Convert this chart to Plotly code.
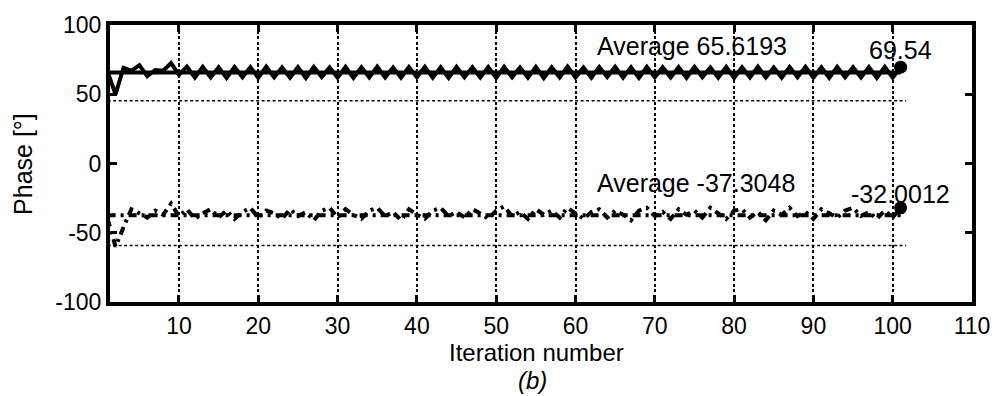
import plotly.graph_objects as go

iterations = list(range(1, 102))

phase_upper = [66, 50, 69, 67, 71, 63, 67.5, 67, 72.5, 64, 70, 62,
               69.8, 62.1, 69.4, 61.8, 69.7, 62.3, 69.5, 61.9, 69.9, 62.2,
               69.3, 62.0, 69.6, 61.7, 69.8, 62.4, 69.4, 62.0, 69.7, 61.8,
               69.5, 62.2, 69.9, 62.1, 69.3, 61.9, 69.6, 62.3, 69.8, 62.0,
               69.4, 61.8, 69.7, 62.2, 69.5, 62.1, 69.6, 61.9, 69.8, 62.3,
               69.4, 62.0, 69.7, 61.7, 69.5, 62.2, 69.9, 62.1, 69.3, 61.9,
               69.6, 62.4, 69.8, 62.0, 69.4, 61.8, 69.7, 62.2, 69.5, 62.1,
               69.6, 61.9, 69.8, 62.3, 69.4, 62.0, 69.7, 61.8, 69.5, 62.2,
               69.9, 62.1, 69.3, 61.9, 69.6, 62.3, 69.8, 62.0, 69.4, 61.8,
               69.7, 62.2, 69.5, 62.1, 69.6, 61.9, 69.8, 62.0, 69.54]

phase_lower = [-40, -60, -46, -33, -36, -39, -34, -37, -29, -38, -33, -40,
               -36, -33, -39, -34, -40, -35, -32, -39, -34, -36, -40, -33,
               -38, -35, -41, -34, -32, -39, -33, -37, -40, -34, -32, -38,
               -35, -41, -33, -37, -40, -34, -32, -38, -35, -39, -33, -36,
               -40, -34, -31, -38, -35, -40, -33, -37, -34, -39, -32, -36,
               -40, -35, -33, -39, -34, -37, -41, -34, -32, -38, -35, -40,
               -33, -37, -34, -39, -32, -36, -40, -34, -33, -39, -35, -41,
               -34, -37, -32, -38, -35, -40, -33, -36, -39, -34, -32, -38,
               -35, -40, -34, -39, -32.0012]

avg_upper = 65.6193
avg_lower = -37.3048
threshold_upper = 45.3
threshold_lower = -59.2
threshold_x = [1, 101.7]
avg_x = [1, 101]

x_ticks = [10, 20, 30, 40, 50, 60, 70, 80, 90, 100, 110]
y_ticks = [-100, -50, 0, 50, 100]

FONT = "Arial, Liberation Sans, sans-serif"
FS = 23
FS_TXT = 25
DASHDOT = "8px,5px,3px,5px"

fig = go.Figure()

# thresholds (thin dotted)
for yv in (threshold_upper, threshold_lower):
    fig.add_trace(go.Scatter(x=threshold_x, y=[yv, yv], mode="lines",
                             line=dict(color="black", width=1.5, dash="3px,2.5px"),
                             hoverinfo="skip", showlegend=False))

# average lines
fig.add_trace(go.Scatter(x=avg_x, y=[avg_upper, avg_upper], mode="lines",
                         line=dict(color="black", width=4),
                         showlegend=False))
fig.add_trace(go.Scatter(x=avg_x, y=[avg_lower, avg_lower], mode="lines",
                         line=dict(color="black", width=4, dash=DASHDOT),
                         showlegend=False))

# series
fig.add_trace(go.Scatter(x=iterations, y=phase_upper, mode="lines",
                         line=dict(color="black", width=4),
                         showlegend=False))
fig.add_trace(go.Scatter(x=iterations, y=phase_lower, mode="lines",
                         line=dict(color="black", width=4, dash=DASHDOT),
                         showlegend=False))

# end markers
fig.add_trace(go.Scatter(x=[iterations[-1], iterations[-1]],
                         y=[phase_upper[-1], phase_lower[-1]],
                         mode="markers", marker=dict(color="black", size=13),
                         showlegend=False, cliponaxis=False))

annotations = [
    dict(x=62.4, y=84.5, xref="x", yref="y", text="Average %.4f" % avg_upper,
         showarrow=False, xanchor="left", yanchor="middle",
         font=dict(family=FONT, size=FS_TXT, color="black")),
    dict(x=96.7, y=82.0, xref="x", yref="y", text="%.2f" % phase_upper[-1],
         showarrow=False, xanchor="left", yanchor="middle",
         font=dict(family=FONT, size=FS_TXT, color="black")),
    dict(x=62.4, y=-13.8, xref="x", yref="y", text="Average %.4f" % avg_lower,
         showarrow=False, xanchor="left", yanchor="middle",
         font=dict(family=FONT, size=FS_TXT, color="black")),
    dict(x=94.5, y=-22.2, xref="x", yref="y", text="%.4f" % phase_lower[-1],
         showarrow=False, xanchor="left", yanchor="middle",
         font=dict(family=FONT, size=FS_TXT, color="black")),
    dict(x=0.495, y=-0.182, xref="paper", yref="paper", text="Iteration number",
         showarrow=False, xanchor="center", yanchor="middle",
         font=dict(family=FONT, size=24, color="black")),
    dict(x=0.4896, y=-0.285, xref="paper", yref="paper", text="<i>(b)</i>",
         showarrow=False, xanchor="center", yanchor="middle",
         font=dict(family=FONT, size=24, color="black")),
    dict(x=-0.1016, y=0.5, xref="paper", yref="paper", text="Phase [°]",
         showarrow=False, xanchor="center", yanchor="middle", textangle=-90,
         font=dict(family=FONT, size=FS_TXT, color="black")),
]

fig.update_layout(
    width=1002, height=396,
    margin=dict(l=110, r=26, t=17, b=94),
    paper_bgcolor="white", plot_bgcolor="white",
    font=dict(family=FONT, size=FS, color="black"),
    annotations=annotations,
    xaxis=dict(range=[1.3, 110], tickvals=x_ticks, ticktext=[str(v) for v in x_ticks],
               showgrid=True, gridcolor="black", gridwidth=1.5, griddash="3px,2.5px",
               zeroline=False, showline=True, linecolor="black", linewidth=4,
               mirror="allticks", ticks="inside", ticklen=7, tickwidth=3,
               tickcolor="black", tickfont=dict(family=FONT, size=FS, color="black")),
    yaxis=dict(range=[-100, 100], tickvals=y_ticks, ticktext=[str(v) for v in y_ticks],
               showgrid=False, zeroline=False, showline=True, linecolor="black",
               linewidth=4, mirror="allticks", ticks="inside", ticklen=7, tickwidth=3,
               tickcolor="black", tickfont=dict(family=FONT, size=FS, color="black")),
)

fig.write_html("out.html")
